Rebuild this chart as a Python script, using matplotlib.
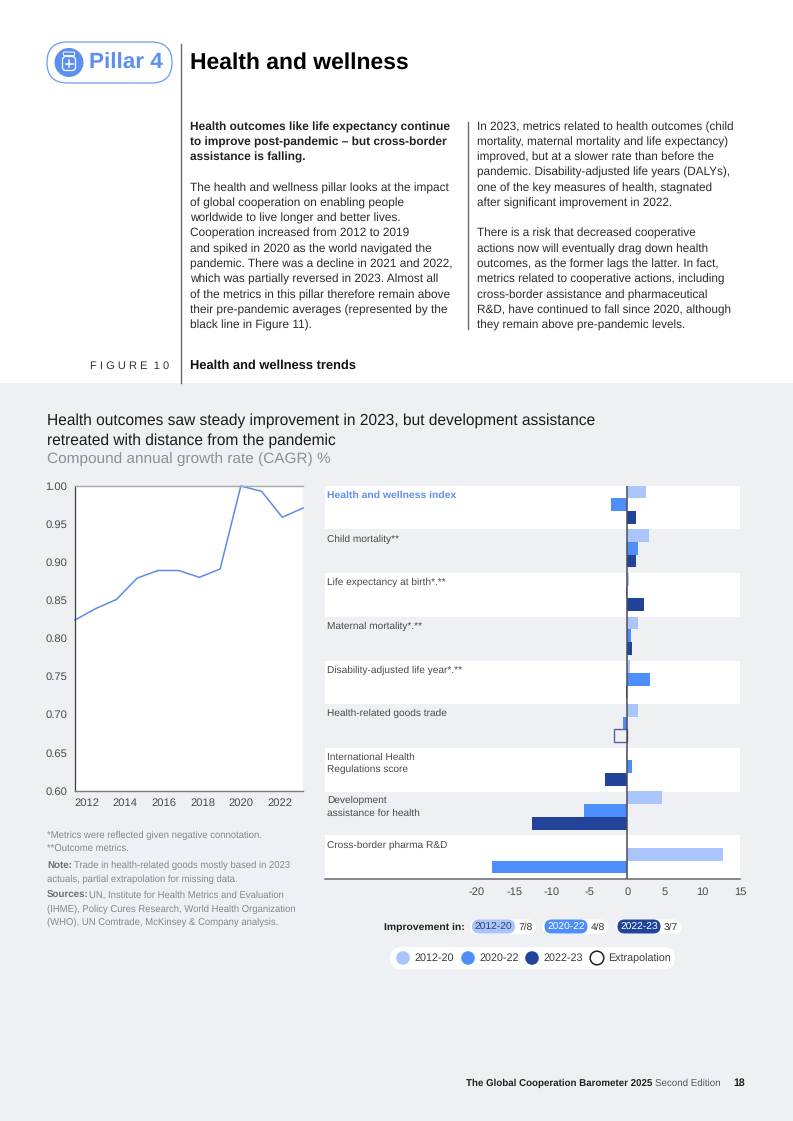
import matplotlib
matplotlib.use('Agg')
import matplotlib.pyplot as plt
from matplotlib.patches import FancyBboxPatch, Rectangle, Circle

plt.rcParams['font.family'] = ['Liberation Sans', 'DejaVu Sans']
plt.rcParams['text.hinting'] = 'no_hinting'
plt.rcParams['text.hinting_factor'] = 8

years = list(range(2012, 2024))
index_values = [0.824, 0.839, 0.851, 0.879, 0.889, 0.889, 0.880, 0.891, 1.0, 0.993, 0.959, 0.971]
y_ticks = [0.60, 0.65, 0.70, 0.75, 0.80, 0.85, 0.90, 0.95, 1.00]
year_labels = [2012, 2014, 2016, 2018, 2020, 2022]

categories = ['Health and wellness index', 'Child mortality**', 'Life expectancy at birth*.**',
              'Maternal mortality*.**', 'Disability-adjusted life year*.**', 'Health-related goods trade',
              'International Health\nRegulations score', 'Development\nassistance for health',
              'Cross-border pharma R&D']
v_2012_20 = [2.45, 2.9, 0.25, 1.4, 0.4, 1.5, -0.1, 4.6, 12.7]
v_2020_22 = [-2.1, 1.5, -0.2, 0.5, 3.0, -0.6, 0.7, -5.7, -18.0]
v_2022_23 = [1.2, 1.2, 2.2, 0.7, -0.2, -1.8, -2.9, -12.7, None]
extrapolated_2022_23 = [False, False, False, False, False, True, False, False, False]
slot_shift = [0, 0, 0, 0, 0, 0, 0, 0, 1]
x_ticks = [-20, -15, -10, -5, 0, 5, 10, 15]

C1, C2, C3 = '#A9C5FB', '#4E8EFA', '#21449A'
BG = '#EEF0F4'
GREY = '#4A4A4F'
LIGHTGREY = '#8E9096'
LINE = '#5C8BE8'
BLUE = '#5B8FF0'

fig = plt.figure(figsize=(7.93, 11.21), dpi=100, facecolor='white')
W, H = 793, 1121
pg = fig.add_axes([0, 0, 1, 1], zorder=0)
pg.set_xlim(0, W); pg.set_ylim(H, 0); pg.axis('off')

def T(x, y, s, size=8.6, color='#222226', weight='normal', ha='left', ax=pg, **kw):
    return ax.text(x, y, s, fontsize=size, color=color, fontweight=weight, ha=ha, va='center', **kw)

def pill(x0, y0, x1, y1, fc, ec='none', lw=0, z=2):
    r = (y1 - y0) / 2
    pg.add_patch(FancyBboxPatch((x0 + r, y0 + r), x1 - x0 - 2 * r, 0,
                                boxstyle=f'round,pad={r},rounding_size={r}',
                                fc=fc, ec=ec, lw=lw, zorder=z, mutation_aspect=1))

# page background and rules
pg.add_patch(Rectangle((0, 383), W, H - 383, fc=BG, ec='none', zorder=0))
pg.plot([181, 181], [44, 383], color='#6A6A6E', lw=1.0, zorder=1)
pg.plot([468, 468], [122, 329], color='#6A6A6E', lw=1.0, zorder=1)

# pillar badge
pill(47, 42, 172, 83, 'white', '#6E9BF2', 0.9)
pg.add_patch(Circle((69, 62.5), 14.5, fc=BLUE, ec='none', zorder=3))
pg.add_patch(FancyBboxPatch((62.5, 56.5), 13, 14, boxstyle='round,pad=0,rounding_size=3.5', fc='none', ec='white', lw=0.9, zorder=4))
pg.add_patch(FancyBboxPatch((63.5, 52), 11, 3.6, boxstyle='round,pad=0,rounding_size=1', fc='none', ec='white', lw=0.7, zorder=4))
pg.plot([65.5, 72.5], [63.5, 63.5], color='white', lw=1.1, zorder=4)
pg.plot([69, 69], [60, 67], color='white', lw=1.1, zorder=4)
T(89, 63.5, 'Pillar 4', 16.2, BLUE, 'bold', zorder=3)
T(190, 63, 'Health and wellness', 16.5, '#000000', 'bold')

left_bold = [(127, 'Health outcomes like life expectancy continue'),
             (142, 'to improve post-pandemic – but cross-border'),
             (157.5, 'assistance is falling.')]
left = [(188, 'The health and wellness pillar looks at the impact'),
        (203, 'of global cooperation on enabling people'),
        (218.5, 'worldwide to live longer and better lives.'),
        (233.5, 'Cooperation increased from 2012 to 2019'),
        (249, 'and spiked in 2020 as the world navigated the'),
        (264.5, 'pandemic. There was a decline in 2021 and 2022,'),
        (279.5, 'which was partially reversed in 2023. Almost all'),
        (295, 'of the metrics in this pillar therefore remain above'),
        (310.5, 'their pre-pandemic averages (represented by the'),
        (325.5, 'black line in Figure 11).')]
right = [(127, 'In 2023, metrics related to health outcomes (child'),
         (142, 'mortality, maternal mortality and life expectancy)'),
         (157.5, 'improved, but at a slower rate than before the'),
         (172.5, 'pandemic. Disability-adjusted life years (DALYs),'),
         (188, 'one of the key measures of health, stagnated'),
         (203, 'after significant improvement in 2022.'),
         (233.5, 'There is a risk that decreased cooperative'),
         (249, 'actions now will eventually drag down health'),
         (264.5, 'outcomes, as the former lags the latter. In fact,'),
         (279.5, 'metrics related to cooperative actions, including'),
         (295, 'cross-border assistance and pharmaceutical'),
         (310.5, 'R&D, have continued to fall since 2020, although'),
         (325.5, 'they remain above pre-pandemic levels.')]
for y, s in left_bold:
    T(190, y, s, 8.6, '#222226', 'bold')
for y, s in left:
    T(190, y, s, 8.6, '#2c2c30')
for y, s in right:
    T(477, y, s, 8.43, '#2c2c30')

T(90, 366, 'F I G U R E  1 0', 8.0, '#333338')
T(190, 366, 'Health and wellness trends', 9.25, '#111114', 'bold')

T(47, 421, 'Health outcomes saw steady improvement in 2023, but development assistance', 11.2, '#1c1c20')
T(47, 440.5, 'retreated with distance from the pandemic', 11.2, '#1c1c20')
T(47, 459, 'Compound annual growth rate (CAGR) %', 11.1, LIGHTGREY)

def axpx(x0, y0, x1, y1, z=2):
    return fig.add_axes([x0 / W, 1 - y1 / H, (x1 - x0) / W, (y1 - y0) / H], zorder=z)

# line chart
a = axpx(75, 486, 303, 790.5)
a.plot(years, index_values, color=LINE, lw=1.1, solid_joinstyle='round', clip_on=False)
a.set_xlim(2012, 2023); a.set_ylim(0.60, 1.00)
a.set_yticks(y_ticks, [f'{v:.2f}' for v in y_ticks])
# year labels sit on their own slightly narrower band scale
a.set_xticks([2012 + (11.7 + 19.33 * (y - 2012)) / 20.73 for y in year_labels], [str(y) for y in year_labels])
a.tick_params(length=0, labelsize=8.1, labelcolor=GREY, pad=5.5)
a.tick_params(axis='x', pad=5)
a.spines['right'].set_visible(False)
a.spines['top'].set_color('#A8A8AC'); a.spines['top'].set_linewidth(1.0)
a.spines['bottom'].set_color('#7A7A7E'); a.spines['bottom'].set_linewidth(1.0)
a.spines['left'].set_color('#3C3C40'); a.spines['left'].set_linewidth(0.9)

# bar chart
b = axpx(325, 486, 740, 878.5)
b.patch.set_alpha(0)
b.set_xlim(-40.17, 14.95); b.set_ylim(8.985, 0)
SLOT = 0.291
for i, c in enumerate(categories):
    if i % 2 == 0:
        b.axhspan(i, i + 0.995, color='white', lw=0, zorder=0)
    col = '#5E90EE' if i == 0 else GREY
    wt = 'bold' if i == 0 else 'normal'
    sz = 7.45 if i == 0 else 7.3
    b.text(-40.17 + 0.33, i + 0.215 + (0.13 if '\n' in c else 0), c, fontsize=sz, color=col, fontweight=wt,
           va='center', ha='left', linespacing=1.38, zorder=4)
    s = slot_shift[i]
    for j, (vals, colr) in enumerate([(v_2012_20, C1), (v_2020_22, C2), (v_2022_23, C3)]):
        v = vals[i]
        if v is None:
            continue
        yy = i + (j + s + 0.47) * SLOT
        if j == 2 and extrapolated_2022_23[i]:
            b.barh(yy, v, height=SLOT, fc='none', ec='#54668F', lw=1.0, zorder=2)
        else:
            b.barh(yy, v, height=SLOT, color=colr, lw=0, zorder=2)
b.axvline(0, color='#4A4D58', lw=1.1, zorder=3)
b.set_xticks(x_ticks, [str(v) for v in x_ticks])
b.set_yticks([])
b.tick_params(length=0, labelsize=8.0, labelcolor=GREY, pad=6)
for s in ['top', 'left', 'right']:
    b.spines[s].set_visible(False)
b.spines['bottom'].set_color('#6A6A6E'); b.spines['bottom'].set_linewidth(1.1)

# footnotes
fn = '#85878D'
FS = 6.85
T(47, 835, '*Metrics were reflected given negative connotation.', FS, fn)
T(47, 848.5, '**Outcome metrics.', FS, fn)
T(47, 865.5, 'Note:', FS + 0.2, '#6E7076', 'bold')
T(74, 865.5, 'Trade in health-related goods mostly based in 2023', FS, fn)
T(47, 879, 'actuals, partial extrapolation for missing data.', FS, fn)
T(47, 895.5, 'Sources:', FS + 0.2, '#6E7076', 'bold')
T(89, 895.5, 'UN, Institute for Health Metrics and Evaluation', FS, fn)
T(47, 909, '(IHME), Policy Cures Research, World Health Organization', FS, fn)
T(47, 922.5, '(WHO), UN Comtrade, McKinsey & Company analysis.', FS, fn)

# improvement pills
T(384, 927, 'Improvement in:', 7.5, '#222226', 'bold')
for x0, lab, frac, fc, tc in [(472, '2012-20', '7/8', C1, '#33415F'), (544.5, '2020-22', '4/8', C2, 'white'), (617.5, '2022-23', '3/7', C3, 'white')]:
    pill(x0 - 2, 919.5, x0 + 64, 934, 'white', z=1)
    pill(x0, 919.5, x0 + 43, 933.5, fc)
    T(x0 + 21.5, 927, lab, 7.4, tc, ha='center', zorder=4)
    T(x0 + 46, 927.5, frac, 7.4, '#333338', zorder=4)

# legend
pill(390, 947, 675, 969.5, 'white')
for cx, lab, fc, ec in [(403, '2012-20', C1, 'none'), (468, '2020-22', C2, 'none'), (532, '2022-23', C3, 'none'), (597, 'Extrapolation', 'white', '#222226')]:
    pg.add_patch(Circle((cx, 958), 6.8, fc=fc, ec=ec, lw=1.1, zorder=3))
    T(cx + 11.5, 958.5, lab, 7.75, '#3A3A3F', zorder=3)

# footer
T(721, 1083, 'Second Edition', 7.0, '#55565B', ha='right')
T(652.5, 1083, 'The Global Cooperation Barometer 2025', 7.0, '#222226', 'bold', ha='right')
T(745, 1083, '18', 7.6, '#222226', 'bold', ha='right')

fig.savefig('out.png', dpi=100, facecolor='white')
